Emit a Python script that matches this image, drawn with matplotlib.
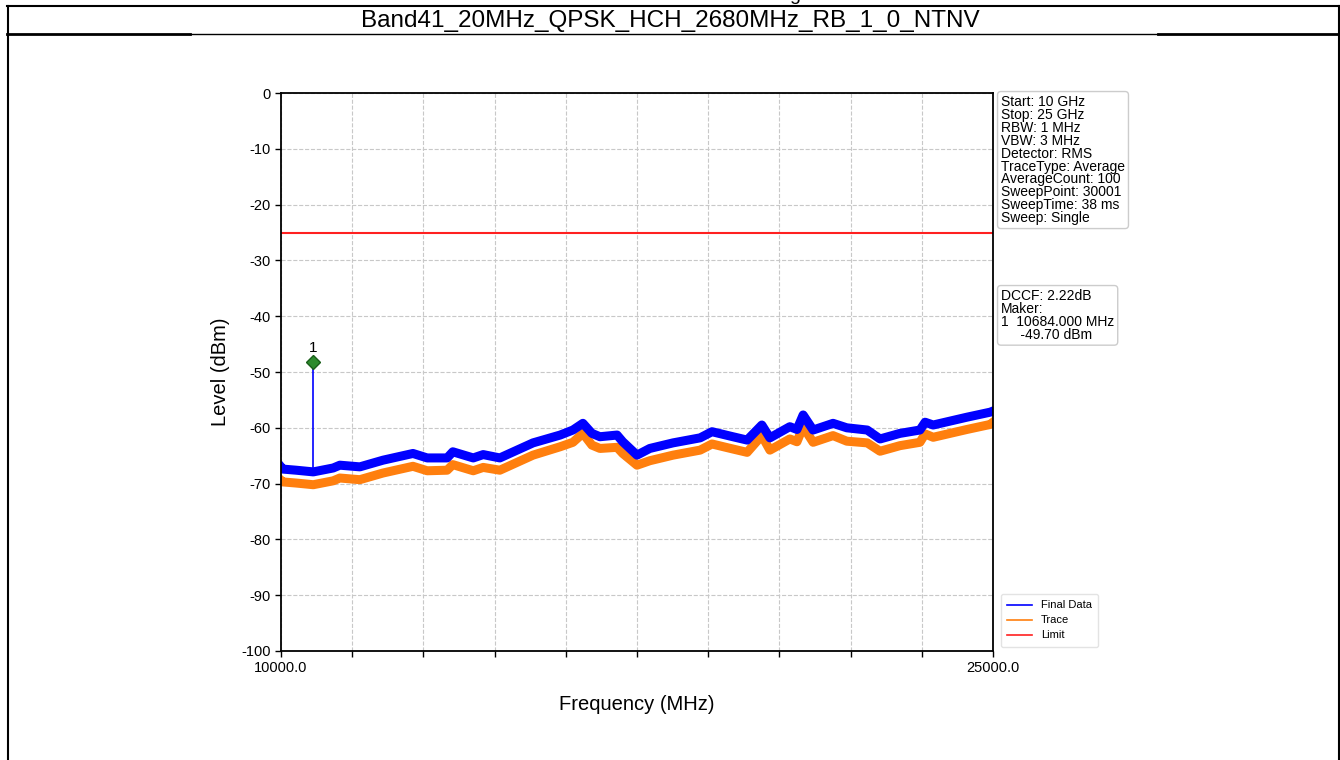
import matplotlib.pyplot as plt
from matplotlib.lines import Line2D

plt.rcParams['font.family'] = ['Liberation Sans', 'DejaVu Sans']
plt.rcParams['axes.unicode_minus'] = False

# データ
title = "Band41_20MHz_QPSK_HCH_2680MHz_RB_1_0_NTNV"

freq_mhz = [10000, 10040, 10320, 10680, 11100, 11240, 11660, 12150, 12780, 13080,
            13500, 13620, 14050, 14260, 14610, 15310, 15880, 16150, 16360, 16550,
            16720, 17080, 17200, 17500, 17770, 18260, 18830, 19080, 19520, 19820,
            20130, 20300, 20720, 20870, 21000, 21210, 21630, 21920, 22350, 22620,
            23040, 23460, 23570, 23740, 24450, 24940, 25000]

final_data = [-67.0, -67.4, -67.6, -67.9, -67.2, -66.7, -67.0, -65.8, -64.6, -65.4,
              -65.4, -64.3, -65.4, -64.8, -65.4, -62.7, -61.3, -60.4, -59.2, -61.0,
              -61.6, -61.3, -62.5, -64.9, -63.7, -62.7, -61.8, -60.7, -61.6, -62.2,
              -59.5, -61.8, -59.8, -60.3, -57.7, -60.4, -59.2, -60.0, -60.4, -62.0,
              -61.0, -60.4, -59.0, -59.5, -58.1, -57.2, -57.0]

trace = [-69.4, -69.7, -69.9, -70.2, -69.5, -69.0, -69.3, -68.1, -66.9, -67.7,
         -67.6, -66.6, -67.7, -67.1, -67.6, -64.9, -63.4, -62.6, -61.0, -63.1,
         -63.7, -63.5, -64.6, -66.7, -65.9, -64.9, -64.0, -62.9, -63.8, -64.4,
         -61.4, -64.0, -62.0, -62.5, -59.8, -62.6, -61.4, -62.4, -62.7, -64.2,
         -63.2, -62.6, -61.1, -61.7, -60.3, -59.4, -59.0]

limit_dbm = -25
marker_freq = 10684
marker_level = -48.2
marker_trace_level = -67.6

x_ticks = [10000, 11500, 13000, 14500, 16000, 17500, 19000, 20500, 22000, 23500, 25000]
x_tick_labels = ["10000.0", "", "", "", "", "", "", "", "", "", "25000.0"]
y_ticks = list(range(-100, 1, 10))

info_text = ("Start: 10 GHz\nStop: 25 GHz\nRBW: 1 MHz\nVBW: 3 MHz\nDetector: RMS\n"
             "TraceType: Average\nAverageCount: 100\nSweepPoint: 30001\n"
             "SweepTime: 38 ms\nSweep: Single")
marker_text = "DCCF: 2.22dB\nMaker:\n1  10684.000 MHz\n     -49.70 dBm"

W, H = 1340, 760
fig = plt.figure(figsize=(W / 100, H / 100), dpi=100)

# 表の枠線
def fline(x0, x1, y0, y1, lw=1.5):
    fig.add_artist(Line2D([x0 / W, x1 / W], [1 - y0 / H, 1 - y1 / H],
                          color="black", lw=lw, transform=fig.transFigure))

fline(7, 1339, 6, 6)
fline(7, 190, 34, 34, lw=2)
fline(190, 1158, 34, 34, lw=1)
fline(1158, 1339, 34, 34, lw=2)
fline(7.5, 7.5, 6, 760)
fline(1338.5, 1338.5, 6, 760)

fig.text(795 / W, 1.0, "g", fontsize=14, ha="center", va="baseline")
fig.text(0.5, 1 - 21 / H, title, fontsize=17.5, ha="center", va="center")

# グラフ
ax = fig.add_axes([281 / W, 1 - 651 / H, 712 / W, 558 / H])
ax.plot(freq_mhz, trace, color="#ff7f0e", lw=6.5, solid_joinstyle="round")
ax.plot(freq_mhz, final_data, color="#0000ff", lw=6.5, solid_joinstyle="round")
ax.axhline(limit_dbm, color="#ff2020", lw=1.5)
ax.vlines(marker_freq, marker_trace_level, marker_level, color="#0000ff", lw=1.2)
ax.plot([marker_freq], [marker_level], marker="D", color="#2e8b2e",
        markeredgecolor="#1a5e1a", markersize=7)
ax.text(marker_freq, marker_level + 1.3, "1", fontsize=11, ha="center", va="bottom")

ax.set_xlim(10000, 25000)
ax.set_ylim(-100, 0)
ax.set_xticks(x_ticks)
ax.set_xticklabels(x_tick_labels, fontsize=10.5)
ax.set_yticks(y_ticks)
ax.tick_params(axis="y", labelsize=10.5)
ax.tick_params(direction="out", length=4, width=1)
ax.grid(True, linestyle="--", color="#c8c8c8", lw=0.8)
for s in ax.spines.values():
    s.set_linewidth(1.3)
ax.set_xlabel("Frequency (MHz)", fontsize=14.5, labelpad=14)
ax.set_ylabel("Level (dBm)", fontsize=14.5, labelpad=8)

handles = [Line2D([], [], color="#0000ff", lw=1.2),
           Line2D([], [], color="#ff7f0e", lw=1.2),
           Line2D([], [], color="#ff2020", lw=1.2)]
ax.legend(handles, ["Final Data", "Trace", "Limit"], loc="lower left",
          bbox_to_anchor=(1.003, -0.003), fontsize=8, handlelength=2.2,
          frameon=True, edgecolor="#dddddd", fancybox=True, borderpad=0.6,
          labelspacing=0.45)

box = dict(boxstyle="round,pad=0.25", fc="white", ec="#cccccc", lw=1)
fig.text(1001 / W, 1 - 95 / H, info_text, fontsize=10, linespacing=0.9,
         ha="left", va="top", bbox=box)
fig.text(1001 / W, 1 - 289 / H, marker_text, fontsize=10, linespacing=0.9,
         ha="left", va="top", bbox=box)

plt.savefig("out.png", dpi=100)
